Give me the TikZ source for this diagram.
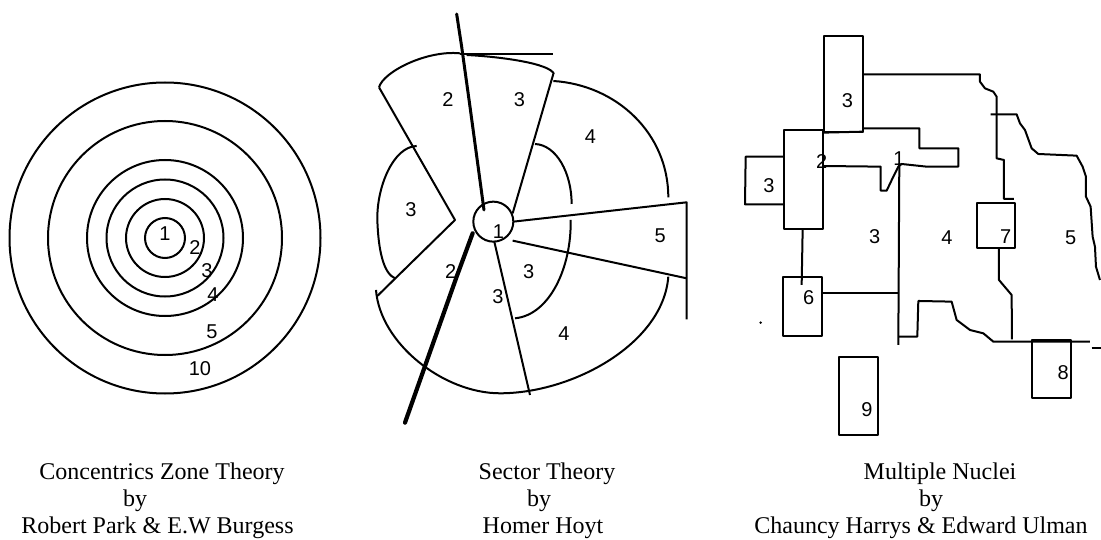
\documentclass[tikz,border=0pt]{standalone}
\usepackage{fontspec}
\setmainfont{Liberation Serif}
\setsansfont{Liberation Sans}
\usepackage{tikz}

\begin{document}
\begin{tikzpicture}[
  x=1pt, y=-1pt,
  every node/.style={inner sep=0pt},
  num/.style={font=\fontsize{20}{22}\selectfont\sffamily},
  capt/.style={anchor=base, font=\fontsize{24}{27}\selectfont},
  ring/.style={draw, line width=2pt},
  wall/.style={line width=2pt, line join=round},
  heavy/.style={line width=3pt, line cap=round},
  heavier/.style={line width=4.2pt, line cap=round},
  zoomA/.style={shift={(360,0)}, x=0.3333pt, y=-0.3333pt},
  zoomB/.style={shift={(730,20)}, x=0.3333pt, y=-0.3333pt}
]
\useasboundingbox (0,0) rectangle (1101,540);

% concentric zones
\draw[ring] (165,238) circle[radius=20];
\draw[ring] (165,238) circle[radius=39];
\draw[ring] (165,238) circle[radius=58.5];
\draw[ring] (165,238) circle[radius=78];
\draw[ring] (165,238) circle[radius=117];
\draw[ring] (165,238) circle[radius=155.5];
\node[num] (c1) at (165,234) {1};
\node[num] (c2) at (195,248) {2};
\node[num] (c3) at (207,271) {3};
\node[num] (c4) at (213,295) {4};
\node[num] (c5) at (212,332) {5};
\node[num] (c10) at (200,369) {10};
\node[capt] (capA1) at (162,479) {Concentrics Zone Theory};
\node[capt] (capA2) at (135,506) {by};
\node[capt] (capA3) at (157.5,533) {Robert Park \& E.W Burgess};

% sectors
\begin{scope}[zoomA]
\draw[wall] (400,665) circle[radius=60];
\draw[heavy] (290,42) -- (305,140) -- (330,320) -- (372,630);
\draw[heavier] (338,700) -- (290,830) -- (135,1268);
\draw[wall] (300,162) -- (580,162);
\draw[wall] (57,262) .. controls (70,215) and (200,150) .. (300,160);
\draw[wall] (320,165) .. controls (420,170) and (570,190) .. (582,222);
\draw[wall] (580,222) -- (458,640);
\draw[wall] (57,262) -- (285,660) -- (50,890);
\draw[wall] (170,438) .. controls (100,440) and (50,560) .. (52,660) .. controls (55,750) and (70,820) .. (105,835);
\draw[wall] (48,870) .. controls (60,1030) and (250,1180) .. (420,1180) .. controls (640,1180) and (910,1030) .. (925,830);
\draw[wall] (580,243) .. controls (770,255) and (925,400) .. (925,592);
\draw[wall] (525,432) .. controls (590,435) and (635,520) .. (635,612);
\draw[wall] (632,660) .. controls (635,800) and (570,945) .. (465,955);
\draw[wall] (460,665) -- (980,607) -- (980,958);
\draw[wall] (458,722) -- (980,835);
\draw[wall] (403,725) -- (510,1185);
\node[num] (s2a) at (264,298) {2};
\node[num] (s3a) at (478,298) {3};
\node[num] (s4a) at (691,410) {4};
\node[num] (s3b) at (153,630) {3};
\node[num] (s1) at (415,695) {1};
\node[num] (s5) at (901,706) {5};
\node[num] (s2b) at (272,816) {2};
\node[num] (s3c) at (506,816) {3};
\node[num] (s3d) at (414,890) {3};
\node[num] (s4b) at (612,1002) {4};
\end{scope}
\node[capt] (capB1) at (547,479) {Sector Theory};
\node[capt] (capB2) at (539,506) {by};
\node[capt] (capB3) at (543,533) {Homer Hoyt};

% multiple nuclei
\begin{scope}[zoomB]
\draw[wall] (282,48) rectangle (400,335);
\draw[wall] (162,330) rectangle (278,628);
\draw[wall] (278,338) -- (400,335);
\draw[wall] (160,410) -- (47,410) -- (45,553) -- (160,553);
\draw[wall] (400,163) -- (750,163) -- (750,185) -- (765,205) -- (790,215) -- (800,230) -- (800,415) -- (822,420) -- (822,537) -- (852,537);
\draw[wall] (400,325) -- (568,325) -- (568,385) -- (685,385) -- (685,440) -- (590,440) -- (515,432) -- (505,440) -- (490,470) -- (470,512) -- (452,512) -- (452,440) -- (278,438);
\draw[wall] (508,430) -- (505,975);
\draw[wall] (505,950) -- (562,950) -- (565,843) -- (665,845) -- (680,900) -- (720,930) -- (760,940) -- (790,965) -- (1080,965);
\draw[wall] (1085,985) -- (1113,985);
\draw[wall] (158,770) rectangle (275,948);
\draw[wall] (218,628) -- (215,795);
\draw[wall] (275,820) -- (505,820);
\draw[wall] (740,550) rectangle (856,683);
\draw[wall] (807,683) -- (807,780) -- (845,825) -- (846,958);
\draw[wall] (327,1012) rectangle (445,1245);
\draw[wall] (905,960) rectangle (1023,1133);
\draw[wall] (782,283) -- (860,283) -- (870,310) -- (885,330) -- (905,385) -- (925,402) -- (1040,407) -- (1058,440) -- (1068,470) -- (1068,530) -- (1082,560) -- (1088,650) -- (1095,680) -- (1098,740) -- (1110,780);
\fill (92,908) circle[radius=4];
\node[num] (m3a) at (352,243) {3};
\node[num] (m3b) at (117,498) {3};
\node[num] (m1) at (507,416) {1};
\node[num] (m2) at (275,426) {2};
\node[num] (m3c) at (434,650) {3};
\node[num] (m4) at (651,652) {4};
\node[num] (m7) at (827,650) {7};
\node[num] (m5) at (1022,652) {5};
\node[num] (m6) at (236,834) {6};
\node[num] (m8) at (1000,1058) {8};
\node[num] (m9) at (411,1168) {9};
\end{scope}
\node[capt] (capC1) at (940,479) {Multiple Nuclei};
\node[capt] (capC2) at (931,506) {by};
\node[capt] (capC3) at (921,533) {Chauncy Harrys \& Edward Ulman};
\end{tikzpicture}
\end{document}
